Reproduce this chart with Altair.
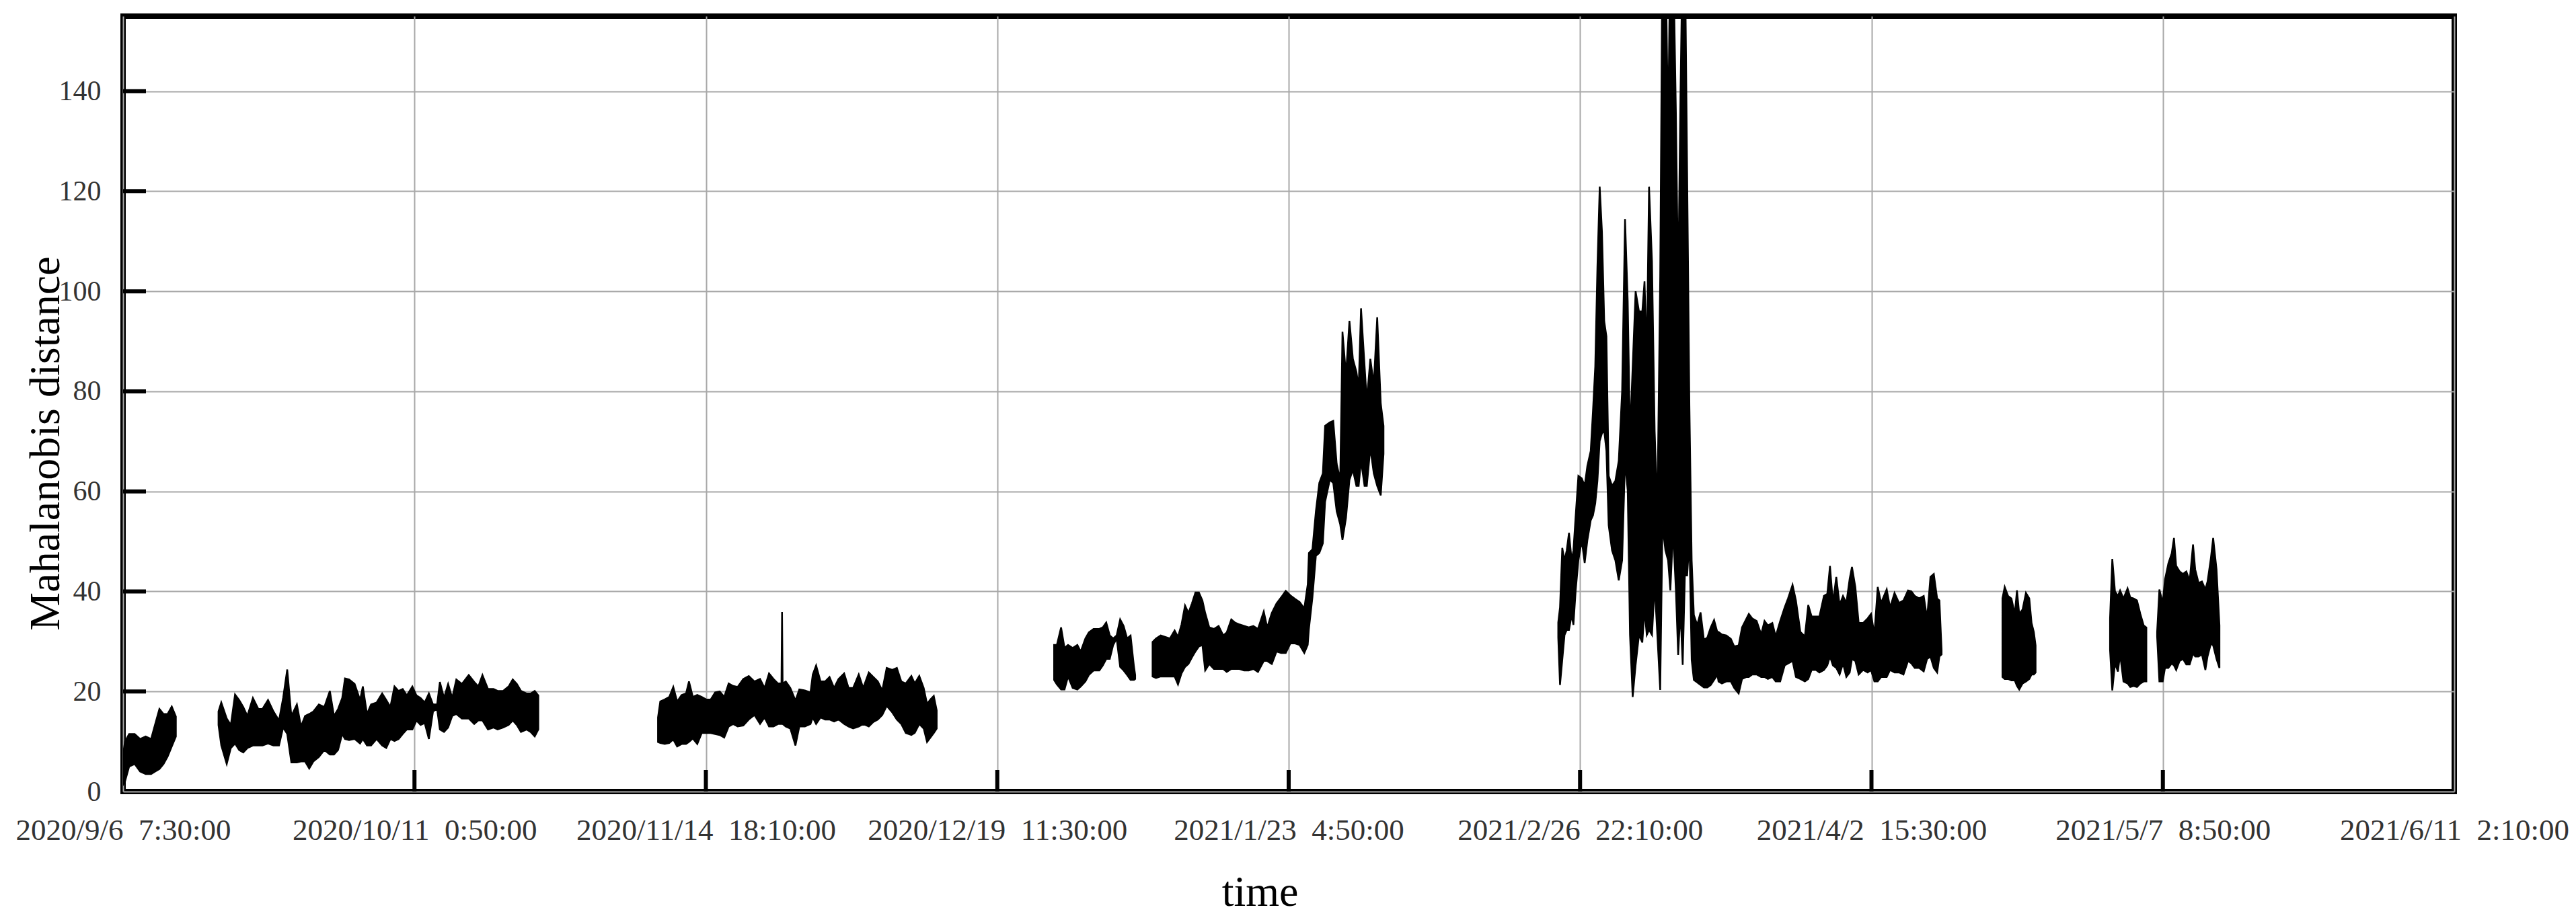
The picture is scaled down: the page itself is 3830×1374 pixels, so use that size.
import altair as alt
import pandas as pd

# ---------------- axis ticks / labels ----------------
tick_labels = ["2020/9/6 7:30:00", "2020/10/11 0:50:00", "2020/11/14 18:10:00",
               "2020/12/19 11:30:00", "2021/1/23 4:50:00", "2021/2/26 22:10:00",
               "2021/4/2 15:30:00", "2021/5/7 8:50:00", "2021/6/11 2:10:00"]
y_ticks = [0, 20, 40, 60, 80, 100, 120, 140]
y_max = 155

# ---------------- data: envelope (low / high) per segment, days since first tick ----------------
A_day = [0.05, 0.23, 0.72, 1.38, 2.03, 2.69, 3.34, 3.83, 4.33, 4.82, 5.31, 5.80, 6.29]
A_lo = [1.5, 2, 5, 5.5, 4, 3.5, 3.5, 4, 4.5, 5.5, 7, 9, 11]
A_hi = [8, 10, 11.5, 11.5, 10.5, 11, 10.5, 13.5, 16.5, 15.5, 15.5, 17, 15]

B_day = [11.37, 11.70, 12.35, 12.84, 13.34, 13.83, 14.32, 14.81, 15.47, 16.12,
         16.61, 17.27, 17.92, 18.58, 19.07, 19.56, 20.05, 20.71, 21.20, 21.69,
         22.18, 22.67, 23.33, 23.98, 24.64, 25.13, 25.62, 26.11, 26.44, 26.93,
         27.59, 28.24, 28.57, 29.06, 29.55, 30.21, 30.87, 31.36, 31.85, 32.34,
         32.83, 33.32, 33.81, 34.47, 34.96, 35.45, 35.94, 36.44, 36.93, 37.42,
         37.75, 38.24, 38.73, 39.22, 39.71, 40.37, 41.19, 41.84, 42.33, 42.82,
         43.48, 44.14, 44.63, 45.28, 45.94, 46.43, 46.92, 47.41, 48.07, 48.56,
         49.05, 49.48]
B_hi = [16, 17.8, 14.6, 13.3, 19.4, 18.3, 16.9, 15.1, 18.7, 16.5,
        16.5, 18.3, 16, 14.2, 18.7, 24.4, 15.1, 17.4, 13, 15.1,
        15.5, 16, 17.4, 16.9, 20.1, 15.1, 16.5, 18.7, 22.6, 22.4,
        21.5, 18.3, 21, 15.5, 17.4, 17.8, 19.6, 18.3, 16.9, 21,
        20.1, 20.5, 19.2, 21, 19.2, 18.7, 17.8, 19.6, 17.4, 17.4,
        21.9, 18.7, 21.5, 18.7, 22.4, 21.5, 23.3, 21.9, 21, 23.3,
        20.5, 20.5, 20.1, 20.1, 21, 22.4, 21.5, 20.1, 19.6, 19.6,
        20.1, 19.2]
B_lo = [13.3, 9.2, 5.5, 8.7, 9.6, 8.3, 7.8, 8.7, 9.2, 9.2,
        9.2, 9.6, 9.2, 9.2, 12.8, 11.5, 5.8, 5.8, 6, 6,
        4.6, 6, 6.9, 8.3, 7.4, 7.4, 8.3, 11.5, 10.5, 10.3,
        10.5, 9.6, 10.5, 9.2, 9.2, 10.5, 9.2, 8.7, 10.5, 10.1,
        10.5, 11.5, 12.4, 12.4, 14.2, 13.3, 13.7, 10.5, 16, 16.5,
        12.4, 11.9, 12.8, 15.1, 15.5, 14.6, 14.6, 13.5, 14.2, 14.2,
        12.4, 12.8, 12.4, 12.8, 13.3, 14.2, 13.3, 11.9, 12.4, 11.9,
        11, 12.4]

C_day = [63.74, 64.01, 64.54, 65.08, 65.56, 66.02, 66.55, 67.08, 67.43, 67.89,
         68.42, 68.95, 69.49, 70.02, 70.55, 71.09, 71.63, 72.16, 72.69, 73.23,
         73.90, 74.56, 75.23, 75.90, 76.44, 76.97, 77.50, 78.04, 78.45, 78.52, 78.59, 78.97,
         79.51, 80.12, 80.58, 81.24, 81.91, 82.18, 82.58, 83.11, 83.65, 84.18,
         84.72, 85.25, 85.92, 86.45, 86.99, 87.66, 88.19, 88.86, 89.39, 89.93,
         90.46, 90.99, 91.66, 92.20, 92.73, 93.27, 93.93, 94.33, 94.87, 95.40,
         95.80, 96.20, 96.60, 96.95]
C_hi = [14.8, 18, 18.4, 18.9, 20.9, 18, 19.3, 19.6, 22, 18.9,
        19.3, 18.9, 18.4, 18.4, 19.8, 20, 18.9, 21.6, 21.1, 20.9,
        22.5, 23.1, 22, 22.5, 20.7, 23.6, 22.5, 21.6, 21.6, 35.9, 21.6, 22,
        20.7, 18.2, 20.4, 20.2, 19.8, 23.4, 25.2, 22, 22, 22.9,
        20.7, 22.5, 23.6, 20.7, 20.7, 23.4, 20.7, 23.8, 22.9, 22,
        20.2, 24.7, 24.3, 24.7, 22, 21.6, 23.1, 21.6, 23.1, 20.7,
        17.5, 18.4, 19.1, 16.2]
C_lo = [9.9, 9.7, 9.5, 9.7, 10.4, 9, 9.5, 9.5, 9.9, 10.6,
        9.5, 11.7, 11.7, 11.7, 11.5, 11.3, 10.8, 13, 13.5, 13,
        13.2, 14.4, 15.3, 13.5, 14.8, 13, 13, 13.5, 13.5, 13.5, 13.5, 13,
        12.6, 9.2, 13, 13, 13.5, 14.8, 13.5, 14.8, 14.4, 14.4,
        14, 14.4, 13.5, 13, 12.6, 13, 13.5, 13, 13.9, 14.4,
        15.3, 17.1, 15.8, 14.4, 13.5, 11.7, 11.3, 11.7, 13.5, 12.6,
        9.9, 10.8, 11.7, 12.6]

D_day = [110.94, 111.27, 111.77, 112.18, 112.60, 113.15, 113.71, 114.11, 114.67, 115.08,
         115.64, 116.33, 116.74, 117.15, 117.57, 117.98, 118.39, 118.81, 119.22, 119.64,
         120.05, 120.46, 120.60]
D_hi = [29.3, 29.3, 32.8, 28.7, 29.3, 28.7, 29.3, 28, 30.6, 31.8,
        32.5, 32.5, 32.8, 33.8, 31.2, 30.6, 31.2, 34.4, 33.1, 30.6,
        31.2, 24.9, 23.3]
D_lo = [22.3, 21.4, 20.4, 20.4, 23, 20.7, 20.4, 21, 22, 23.3,
        24.2, 24.2, 25.2, 26.5, 26.5, 29.3, 30.6, 24.9, 24.2, 23.3,
        22.3, 22.3, 22.5]

E_day = [122.67, 123.08, 123.64, 124.19, 124.74, 125.30, 125.70, 126.12, 126.54, 126.95,
         127.36, 127.78, 128.19, 128.61, 128.94, 129.43, 129.98, 130.54, 131.09, 131.51,
         132.05, 132.47, 133.02, 133.57, 134.13, 134.68, 135.23, 135.92, 136.33, 136.88,
         137.44, 137.99, 138.54, 139.10, 139.64, 140.19, 140.75, 141.16, 141.30, 141.72,
         142.13, 142.54, 142.96, 143.23, 143.79, 144.20, 144.61, 145.03, 145.30, 145.72,
         146.13, 146.54, 146.96, 147.23, 147.51, 147.93, 148.20, 148.62, 149.03, 149.44,
         149.86, 150.19]
E_hi = [29.9, 30.6, 31.2, 30.9, 30.6, 32.2, 30.9, 33.4, 37.2, 35.7,
        37.6, 39.8, 39.8, 38.2, 35.7, 32.8, 32.5, 33.1, 31.2, 31.8,
        34.4, 33.8, 33.4, 33.1, 32.8, 33.1, 32.5, 36, 32.8, 35.7,
        37.6, 38.8, 40.1, 39.2, 38.5, 37.9, 36.6, 41.4, 47.7, 48.4,
        56, 61.7, 63.6, 73.1, 73.8, 74.1, 65.5, 62.3, 91.9, 83.3,
        94.1, 86.5, 83.9, 80.8, 96.6, 85.2, 78.2, 86.5, 81.4, 94.8,
        77.6, 73.1]
E_lo = [23, 22.7, 23, 23, 23, 23, 21.4, 23.6, 24.9, 25.5,
        26.8, 28, 29, 29.3, 24.2, 25.5, 24.5, 24.5, 24.5, 23.9,
        24.5, 24.5, 24.5, 24.2, 24.2, 24.5, 23.9, 26.1, 26.1, 25.5,
        28, 27.7, 27.7, 29.6, 29.6, 29.3, 27.7, 29.3, 32.5, 38.8,
        47.1, 47.7, 49.6, 57.9, 62.3, 61.7, 56, 53.4, 50.3, 54.7,
        62.3, 64.3, 61.1, 61.1, 66.1, 61.1, 61.1, 68.7, 63.6, 61.1,
        59.2, 67.5]

F_day = [171.01, 171.22, 171.49, 171.76, 172.02, 172.29, 172.61, 172.82, 173.09, 173.41,
         173.81, 174.16, 174.48, 174.88, 175.15, 175.42, 175.68, 175.95, 176.22, 176.49,
         176.75, 177.02, 177.42, 177.82, 178.22, 178.62, 178.97, 179.29, 179.56, 179.88,
         180.23, 180.63, 181.03, 181.29, 181.56, 181.83, 182.18, 182.50, 182.82, 183.16,
         183.43, 183.78, 184.10, 184.37, 184.69, 185.03, 185.30, 185.57, 185.84, 186.10,
         186.37, 186.64, 186.91, 187.17, 187.57, 187.97, 188.37, 188.78, 189.18, 189.58,
         189.98,
         190.11, 190.51, 191.04, 191.58, 191.98, 192.51, 192.91, 193.45, 193.72, 194.12,
         194.65, 195.19, 195.59, 195.99, 196.52, 196.92, 197.46, 197.99, 198.39, 198.93,
         199.33, 199.86, 200.40, 200.80, 201.20, 201.73, 202.13, 202.67, 203.07, 203.39,
         203.74, 204.14, 204.54, 204.94, 205.34, 205.74, 206.01, 206.41, 206.81, 207.34,
         207.88, 208.28, 208.68, 209.08, 209.48, 210.15, 210.55, 211.08, 211.62, 212.15,
         212.69, 213.09, 213.49, 214.02, 214.56, 214.96, 215.36, 215.76, 216.16, 216.43,
         216.69]
F_hi = [33.8, 36.8, 48.7, 46.2, 48.2, 51.7, 46.2, 48.2, 55.2, 63.1,
        62.6, 61.1, 65.1, 68.1, 76.1, 85, 105, 120.9, 111.9, 94,
        91, 63.1, 61.1, 62.1, 66.1, 80, 114.4, 98, 71.1, 85,
        100, 96, 96, 102, 87, 120.9, 106, 72.1, 56.2, 103,
        170, 170, 131.8, 170, 170, 135.8, 100, 138.7, 170, 170,
        123.8, 77.1, 46.2, 35.3, 33.3, 35.8, 30.3, 30.8, 32.8, 34.3,
        31.8,
        31.9, 31.4, 31.2, 30.5, 29, 29.2, 32.8, 34.6, 35.5, 34.6,
        34.1, 31.4, 34.1, 33.2, 33.7, 31, 34.1, 36.8, 38.6, 41.3,
        38.2, 31.9, 31, 37.3, 35, 35, 35, 39.1, 39.5, 45.1,
        37.7, 42.9, 37.3, 39.1, 37.7, 42.6, 44.9, 40.9, 33.7, 33.7,
        34.6, 35.5, 31.4, 40.9, 37.7, 40.4, 36.8, 39.7, 37.7, 38.2,
        40.2, 40, 39.1, 38.6, 39.1, 34.6, 42.9, 43.5, 38.6, 38.2,
        28.3]
F_lo = [30.8, 21.3, 26.3, 31.3, 32.3, 32.3, 35.3, 33.3, 40.2, 46.2,
        50.2, 45.7, 50.2, 54.2, 55.2, 57.6, 62.1, 70.1, 71.6, 72.1,
        68.1, 53.2, 48.2, 46.2, 42.2, 46.2, 66.1, 60.1, 31.3, 18.9,
        25.3, 31.3, 29.8, 36.3, 31.3, 32.3, 31.3, 41.2, 31.3, 20.3,
        53.2, 48.2, 46.2, 40.2, 52.2, 40.2, 27.3, 36.3, 25.3, 43.2,
        43.2, 50.2, 26.3, 22.3, 21.8, 21.3, 20.8, 20.8, 21.3, 22.3,
        23.3,
        22, 21.6, 22, 22, 20.7, 19.6, 22.5, 22.9, 22.9, 23.4,
        23.4, 22.9, 22.9, 22.5, 22.9, 22, 22, 25.2, 25.6, 26.1,
        22.9, 22.5, 22, 22.5, 24.3, 24.3, 23.8, 24.3, 25.2, 27,
        25.2, 24.7, 23.4, 25.6, 22.9, 23.8, 26.5, 26.1, 23.4, 24.3,
        23.8, 24.3, 22, 22, 22.9, 22.9, 24.3, 23.8, 23.8, 23.4,
        26.1, 25.6, 24.7, 24.7, 24, 26.5, 27, 24.7, 23.8, 27,
        27.4]

G_day = [223.94, 224.21, 224.61, 225.01, 225.41, 225.67, 225.94, 226.34, 226.74, 227.14,
         227.41, 227.68, 227.89]
G_hi = [38.6, 40.9, 39.1, 38.6, 35.5, 40.2, 35.5, 36.4, 39.7, 38.6, 33.7, 31.9, 29.2]
G_lo = [22.9, 22.5, 22.5, 22.2, 22.2, 21.1, 20.4, 21.6, 22, 22.5, 23.4, 23.4, 23.8]

H1_day = [236.76, 237.03, 237.35, 237.70, 237.96, 238.36, 238.85, 239.17, 239.57, 239.97,
          240.37, 240.77, 241.09]
H1_hi = [34.6, 46.5, 40, 39.1, 40.2, 38.6, 40.6, 38.8, 38.6, 38.2, 35.5, 33.2, 32.8]
H1_lo = [28.3, 20.2, 25.6, 24, 27.4, 22, 21.6, 20.9, 21.1, 20.9, 21.6, 22, 22]

H2_day = [242.37, 242.64, 243.04, 243.31, 243.71, 244.11, 244.38, 244.64, 245.05, 245.45,
          245.85, 246.25, 246.65, 246.91, 247.31, 247.71, 248.12, 248.38, 248.78, 249.05,
          249.45, 249.80]
H2_hi = [31.9, 40.4, 37.7, 42.4, 45.6, 47.6, 50.7, 45.1, 44, 43.5,
         44, 42.2, 49.4, 44.4, 41.7, 42, 40.4, 42, 46.7, 50.7,
         44.4, 33.2]
H2_lo = [31, 22, 22, 24.7, 24.7, 25.6, 25.2, 24.3, 26.1, 26.5,
         25.4, 25.4, 27.6, 27, 27, 27.4, 24.3, 27, 29.6, 29.2,
         26.5, 24.7]

segments = {
    "A": (A_day, A_lo, A_hi), "B": (B_day, B_lo, B_hi), "C": (C_day, C_lo, C_hi),
    "D": (D_day, D_lo, D_hi), "E": (E_day, E_lo, E_hi), "F": (F_day, F_lo, F_hi),
    "G": (G_day, G_lo, G_hi), "H1": (H1_day, H1_lo, H1_hi), "H2": (H2_day, H2_lo, H2_hi),
}

# ---------------- build tables ----------------
FMT = "%Y/%m/%d %H:%M:%S"
tick_ts = [pd.to_datetime(s, format=FMT) for s in tick_labels]
t0 = tick_ts[0]

rows = []
for name, (d, lo, hi) in segments.items():
    assert len(d) == len(lo) == len(hi), name
    for di, l, h in zip(d, lo, hi):
        rows.append({"seg": name,
                     "t": (t0 + pd.Timedelta(days=di)).strftime("%Y-%m-%dT%H:%M:%S"),
                     "lo": l, "hi": h})
df = pd.DataFrame(rows)

df_xt = pd.DataFrame({"t": [t.strftime("%Y-%m-%dT%H:%M:%S") for t in tick_ts[1:-1]]})
df_yt = pd.DataFrame({"v": y_ticks[1:]})


def dt(ts):
    return alt.DateTime(year=ts.year, month=ts.month, date=ts.day,
                        hours=ts.hour, minutes=ts.minute)


W, H = 3466, 1153
xscale = alt.Scale(domain=[dt(tick_ts[0]), dt(tick_ts[-1])], nice=False)
yscale = alt.Scale(domain=[0, y_max], nice=False, zero=True)

GRID = "#a8a8a8"
SERIF = "Liberation Serif"
X_TITLE = "time"
Y_TITLE = "Mahalanobis distance"

xaxis = alt.Axis(values=[dt(t) for t in tick_ts], format="%Y/%-m/%-d\u00a0 %-H:%M:%S",
                 labelFont=SERIF, labelFontSize=45, labelColor="#333333",
                 labelPadding=57, labelBaseline="middle", labelAngle=0,
                 labelFlush=False, labelOverlap=False, labelLimit=0,
                 ticks=False, domain=False, grid=True, gridColor=GRID, gridWidth=2,
                 titleFont=SERIF, titleFontSize=64, titleFontWeight="normal",
                 titleColor="black", titleX=1690, titleY=150, titleBaseline="middle",
                 titleLimit=0)
yaxis = alt.Axis(values=y_ticks, labelFont=SERIF, labelFontSize=42, labelColor="#333333",
                 labelPadding=33, labelBaseline="middle", labelLimit=0,
                 ticks=False, domain=False, grid=True, gridColor=GRID, gridWidth=2,
                 titleFont=SERIF, titleFontSize=64, titleFontWeight="normal",
                 titleColor="black", titleAngle=270, titleX=-115, titleY=635,
                 titleBaseline="middle", titleAlign="center", titleLimit=0)

area = alt.Chart(df).mark_area(color="black", stroke="black", strokeWidth=2.5,
                               opacity=1, fillOpacity=1,
                               clip=True, interpolate="linear").encode(
    x=alt.X("t:T", scale=xscale, axis=xaxis, title=X_TITLE),
    y=alt.Y("hi:Q", scale=yscale, axis=yaxis, title=Y_TITLE),
    y2="lo:Q",
    detail="seg:N",
)

# short inward tick marks (drawn as rules at the tick values)
xticks = alt.Chart(df_xt).mark_rule(color="black", strokeWidth=6).encode(
    x=alt.X("t:T", scale=xscale, title=X_TITLE),
    y=alt.value(H), y2=alt.value(H - 32),
)
yticks = alt.Chart(df_yt).mark_rule(color="black", strokeWidth=6).encode(
    y=alt.Y("v:Q", scale=yscale, title=Y_TITLE),
    x=alt.value(0), x2=alt.value(34),
)

chart = alt.layer(area, xticks, yticks).properties(
    width=W, height=H,
    autosize=alt.AutoSizeParams(type="none"),
    padding={"left": 175, "top": 16, "right": 172, "bottom": 186},
    background="white",
).configure_view(stroke="black", strokeWidth=8)

chart.save("out.html", embed_options={"renderer": "svg", "actions": False})
